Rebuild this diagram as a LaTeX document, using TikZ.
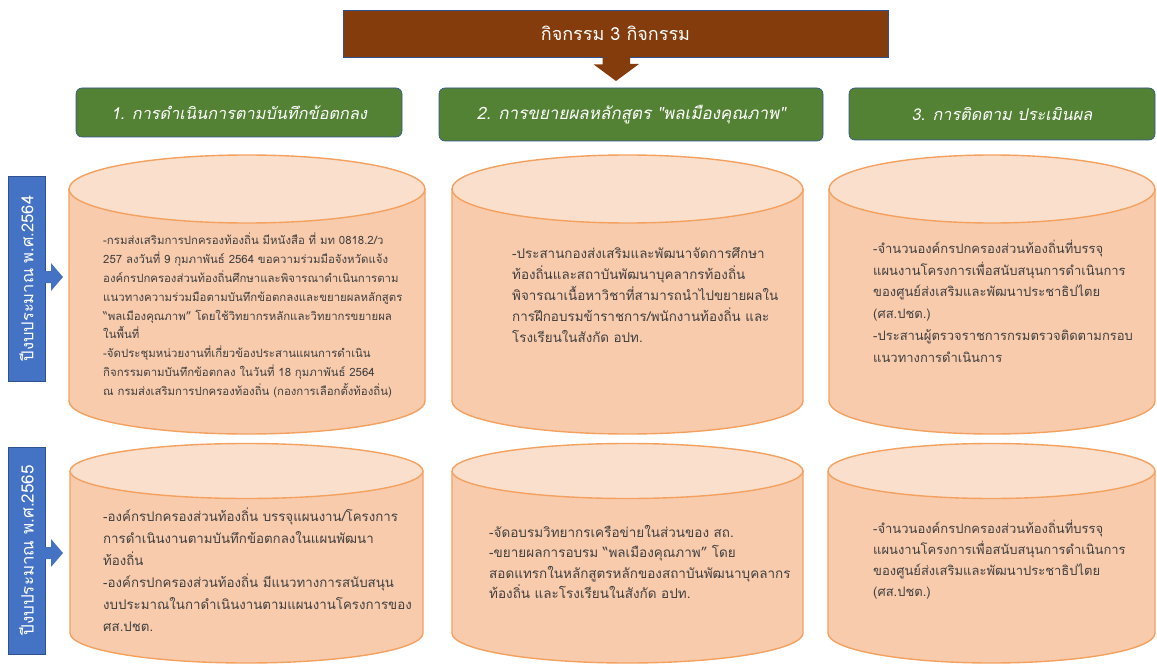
\documentclass[tikz,border=0pt]{standalone}
\usepackage{fontspec}
\newfontfamily\thai[Script=Thai]{Loma}
\newfontfamily\thaiit[Script=Thai,FakeSlant=0.2]{Loma}
\definecolor{brownfill}{HTML}{843C0C}
\definecolor{greenfill}{HTML}{548235}
\definecolor{bluefill}{HTML}{4472C4}
\definecolor{blueline}{HTML}{2F528F}
\definecolor{cylbodyc}{HTML}{F8CBAD}
\definecolor{cyltopc}{HTML}{FADFCC}
\definecolor{cyllinec}{HTML}{F4A160}
\definecolor{bodytext}{HTML}{404040}
\tikzset{
  titlebox/.style={draw=blueline, line width=0.6pt, fill=brownfill, text=white, font=\thai\fontsize{18}{20}\selectfont},
  headbox/.style={draw=blueline, line width=0.6pt, fill=greenfill, rounded corners=6pt, text=white, font=\thaiit\fontsize{16.3}{18}\selectfont},
  yearbox/.style={draw=blueline, line width=0.5pt, fill=bluefill, text=white, rotate=90},
  bluearrow/.style={fill=bluefill},
  brownarrow/.style={fill=brownfill},
  cylbody/.style={fill=cylbodyc},
  cylline/.style={draw=cyllinec, line width=1.4pt},
  cyltop/.style={fill=cyltopc, draw=cyllinec, line width=1.4pt},
  bodytxt/.style={anchor=north west, inner sep=0pt, align=left, text=bodytext},
}
\newcommand\drawcyl[6]{%
  \pgfmathsetmacro\cylcx{(#1+#2)/2}%
  \pgfmathsetmacro\cylrx{(#2-#1)/2}%
  \fill[cylbody] (#1,#3) -- (#1,#5) arc[start angle=180,end angle=0,x radius=\cylrx,y radius=#6] -- (#2,#3) -- cycle;
  \draw[cylline] (#1,#3) -- (#1,#5) arc[start angle=180,end angle=0,x radius=\cylrx,y radius=#6] -- (#2,#3);
  \filldraw[cyltop] (\cylcx,#3) ellipse[x radius=\cylrx, y radius=#4];
}
\begin{document}
\begin{tikzpicture}[x=1pt,y=-1pt]
\useasboundingbox (0,0) rectangle (1157,666);

% title and arrow
\node[titlebox, minimum width=545pt, minimum height=47pt] (title) at (615.5,33.5) {กิจกรรม 3 กิจกรรม};
\fill[brownarrow] (title.south) ++(-13,0) -- ++(0,7) -- ++(-9,0) -- (616,81) -- (639,64) -- ++(-9,0) -- ++(0,-7) -- cycle;

% headers
\node[headbox, minimum width=326pt, minimum height=49pt] (h1) at (239,112.5) {1. การดำเนินการตามบันทึกข้อตกลง};
\node[headbox, minimum width=384pt, minimum height=53pt, font=\thaiit\fontsize{17}{19}\selectfont] (h2) at (631,114.5) {2. การขยายผลหลักสูตร "พลเมืองคุณภาพ"};
\node[headbox, minimum width=306pt, minimum height=52pt] (h3) at (1002,114) {3. การติดตาม ประเมินผล};

% year labels
\node[yearbox, minimum width=205pt, minimum height=37pt, font=\thai\fontsize{16.5}{18}\selectfont] (y1) at (26.5,278.5) {ปีงบประมาณ พ.ศ.2564};
\node[yearbox, minimum width=207pt, minimum height=37pt, font=\thai\fontsize{17}{19}\selectfont] (y2) at (26.5,550.5) {ปีงบประมาณ พ.ศ.2565};
\fill[bluearrow] (45,271) -- (51,271) -- (51,263) -- (63,277) -- (51,291) -- (51,283) -- (45,283) -- cycle;
\fill[bluearrow] (45,547) -- (51,547) -- (51,539) -- (63,553) -- (51,567) -- (51,559) -- (45,559) -- cycle;

% cylinders row 1
\drawcyl{69}{425}{189}{34}{401}{33}
\drawcyl{452}{803}{189}{34}{401}{33}
\drawcyl{829}{1155}{189}{34}{401}{33}
% cylinders row 2
\drawcyl{70}{423}{471}{27.5}{633}{30}
\drawcyl{452}{803}{471}{27.5}{633}{30}
\drawcyl{828}{1155}{471}{27.5}{633}{30}

% texts row 1
\node[bodytxt, font=\thai\fontsize{11.4}{18.8}\selectfont] (t11) at (103,233) {-กรมส่งเสริมการปกครองท้องถิ่น มีหนังสือ ที่ มท 0818.2/ว\\
257 ลงวันที่ 9 กุมภาพันธ์ 2564 ขอความร่วมมือจังหวัดแจ้ง\\
องค์กรปกครองส่วนท้องถิ่นศึกษาและพิจารณาดำเนินการตาม\\
แนวทางความร่วมมือตามบันทึกข้อตกลงและขยายผลหลักสูตร\\
“พลเมืองคุณภาพ” โดยใช้วิทยากรหลักและวิทยากรขยายผล\\
ในพื้นที่\\
-จัดประชุมหน่วยงานที่เกี่ยวข้องประสานแผนการดำเนิน\\
กิจกรรมตามบันทึกข้อตกลง ในวันที่ 18 กุมภาพันธ์ 2564\\
ณ กรมส่งเสริมการปกครองท้องถิ่น (กองการเลือกตั้งท้องถิ่น)};

\node[bodytxt, font=\thai\fontsize{13.4}{21}\selectfont] (t12) at (512,247) {-ประสานกองส่งเสริมและพัฒนาจัดการศึกษา\\
ท้องถิ่นและสถาบันพัฒนาบุคลากรท้องถิ่น\\
พิจารณาเนื้อหาวิชาที่สามารถนำไปขยายผลใน\\
การฝึกอบรมข้าราชการ/พนักงานท้องถิ่น และ\\
โรงเรียนในสังกัด อปท.};

\node[bodytxt, font=\thai\fontsize{13}{21.7}\selectfont] (t13) at (873,240) {-จำนวนองค์กรปกครองส่วนท้องถิ่นที่บรรจุ\\
แผนงานโครงการเพื่อสนับสนุนการดำเนินการ\\
ของศูนย์ส่งเสริมและพัฒนาประชาธิปไตย\\
(ศส.ปชต.)\\
-ประสานผู้ตรวจราชการกรมตรวจติดตามกรอบ\\
แนวทางการดำเนินการ};

% texts row 2
\node[bodytxt, font=\thai\fontsize{13.3}{22}\selectfont] (t21) at (103,508) {-องค์กรปกครองส่วนท้องถิ่น บรรจุแผนงาน/โครงการ\\
การดำเนินงานตามบันทึกข้อตกลงในแผนพัฒนา\\
ท้องถิ่น\\
-องค์กรปกครองส่วนท้องถิ่น มีแนวทางการสนับสนุน\\
งบประมาณในกาดำเนินงานตามแผนงานโครงการของ\\
ศส.ปชต.};

\node[bodytxt, font=\thai\fontsize{13.5}{20.5}\selectfont] (t22) at (489,525) {-จัดอบรมวิทยากรเครือข่ายในส่วนของ สถ.\\
-ขยายผลการอบรม “พลเมืองคุณภาพ” โดย\\
สอดแทรกในหลักสูตรหลักของสถาบันพัฒนาบุคลากร\\
ท้องถิ่น และโรงเรียนในสังกัด อปท.};

\node[bodytxt, font=\thai\fontsize{13}{21}\selectfont] (t23) at (873,520) {-จำนวนองค์กรปกครองส่วนท้องถิ่นที่บรรจุ\\
แผนงานโครงการเพื่อสนับสนุนการดำเนินการ\\
ของศูนย์ส่งเสริมและพัฒนาประชาธิปไตย\\
(ศส.ปชต.)};
\end{tikzpicture}
\end{document}
